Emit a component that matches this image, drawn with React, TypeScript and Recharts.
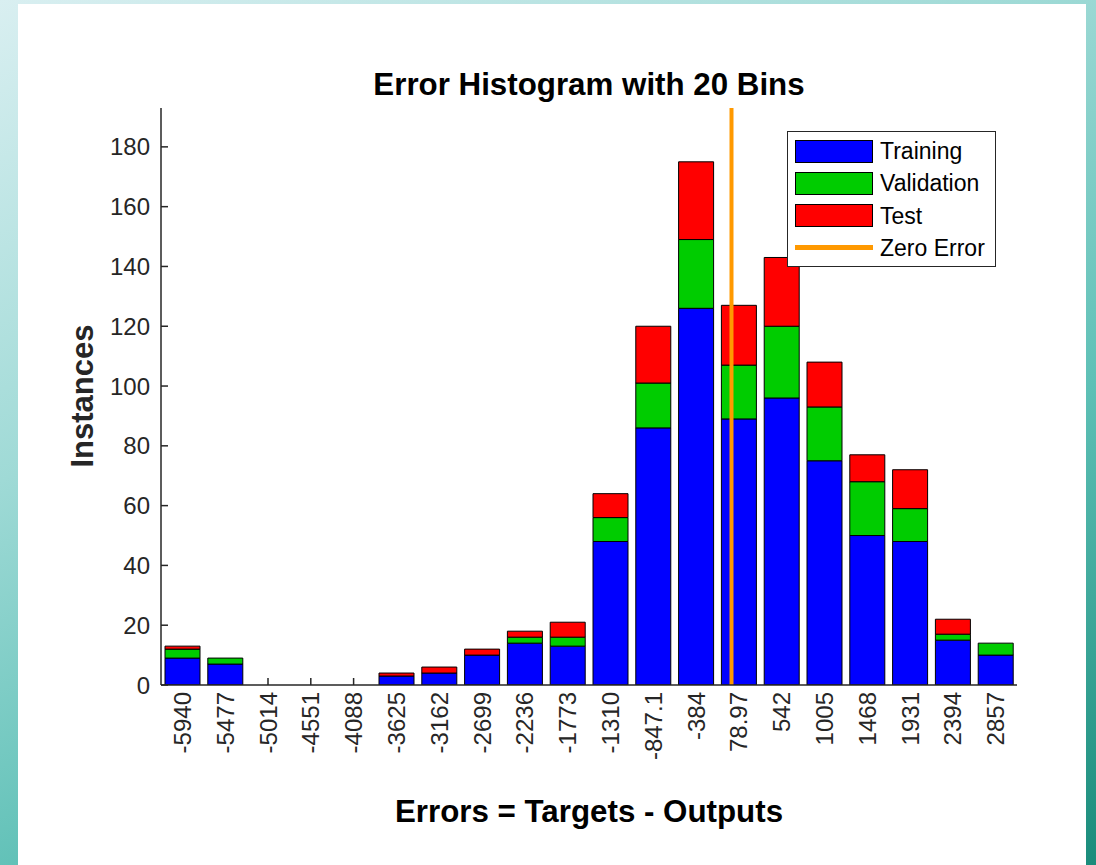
import { BarChart, Bar, XAxis, YAxis, ReferenceLine } from "recharts";

// bin centres of the error histogram and their printed labels
const binCenters = [
  -5940, -5477, -5014, -4551, -4088, -3625, -3162, -2699, -2236, -1773,
  -1310, -847.1, -384, 78.97, 542, 1005, 1468, 1931, 2394, 2857,
];
const binLabels = [
  "-5940", "-5477", "-5014", "-4551", "-4088", "-3625", "-3162", "-2699", "-2236", "-1773",
  "-1310", "-847.1", "-384", "78.97", "542", "1005", "1468", "1931", "2394", "2857",
];

const training = [9, 7, 0, 0, 0, 3, 4, 10, 14, 13, 48, 86, 126, 89, 96, 75, 50, 48, 15, 10];
const validation = [3, 2, 0, 0, 0, 0, 0, 0, 2, 3, 8, 15, 23, 18, 24, 18, 18, 11, 2, 4];
const test = [1, 0, 0, 0, 0, 1, 2, 2, 2, 5, 8, 19, 26, 20, 23, 15, 9, 13, 5, 0];

const yTicks = [0, 20, 40, 60, 80, 100, 120, 140, 160, 180];

const data = binCenters.map((bin, i) => ({
  bin,
  training: training[i],
  validation: validation[i],
  test: test[i],
}));

const FONT = "'Liberation Sans', Arial, Helvetica, sans-serif";
const TEXT = "#262626";

const halfBin = 231.5;

// x/y given to the ticks = axis position (tickSize 0, tickMargin 0)
const YTick = (props: any) => {
  const { x, y, payload } = props;
  return (
    <g>
      <line x1={x} x2={x + 7} y1={y} y2={y} stroke={TEXT} strokeWidth={1.5} />
      <text x={x - 11} y={y} dy={8.5} textAnchor="end" fontSize={24} fontFamily={FONT} fill={TEXT}>
        {payload.value}
      </text>
    </g>
  );
};

const XTick = (props: any) => {
  const { x, y, payload } = props;
  const idx = binCenters.indexOf(payload.value);
  const total = idx >= 0 ? training[idx] + validation[idx] + test[idx] : 0;
  const tx = x + 8.5;
  const ty = y + 7;
  return (
    <g>
      {/* matlab draws ticks under the bars, so only empty bins show them */}
      {total === 0 && <line x1={x} x2={x} y1={y} y2={y - 7} stroke={TEXT} strokeWidth={1.5} />}
      <text
        x={tx}
        y={ty}
        textAnchor="end"
        transform={`rotate(-90, ${tx}, ${ty})`}
        fontSize={24}
        fontFamily={FONT}
        fill={TEXT}
      >
        {idx >= 0 ? binLabels[idx] : payload.value}
      </text>
    </g>
  );
};

const legendItems = [
  { name: "Training", color: "#0000ff", kind: "box" },
  { name: "Validation", color: "#00cc00", kind: "box" },
  { name: "Test", color: "#ff0000", kind: "box" },
  { name: "Zero Error", color: "#ff9900", kind: "line" },
];

export default function App() {
  return (
    <div
      style={{
        position: "fixed",
        left: 0,
        top: 0,
        width: 1096,
        height: 865,
        overflow: "hidden",
        background: "linear-gradient(155deg, #d9eff1 0%, #9fdad6 35%, #5ec0b6 65%, #1a8c7b 100%)",
      }}
    >
      {/* white figure panel */}
      <div
        style={{
          position: "absolute",
          left: 18,
          top: 4,
          width: 1068,
          height: 861,
          background: "#fff",
        }}
      />

      <div style={{ position: "absolute", left: 0, top: 0 }}>
        <BarChart
          width={1096}
          height={865}
          data={data}
          barSize={35}
          margin={{ top: 108, right: 79, bottom: 100, left: 101 }}
        >
          <XAxis
            dataKey="bin"
            type="number"
            domain={[binCenters[0] - halfBin, binCenters[binCenters.length - 1] + halfBin]}
            ticks={binCenters}
            interval={0}
            height={80}
            tickLine={false}
            tickSize={0}
            tickMargin={0}
            tick={<XTick />}
            axisLine={{ stroke: TEXT, strokeWidth: 1.5 }}
            allowDataOverflow
          />
          <YAxis
            domain={[0, 193]}
            ticks={yTicks}
            width={60}
            tickLine={false}
            tickSize={0}
            tickMargin={0}
            tick={<YTick />}
            axisLine={{ stroke: TEXT, strokeWidth: 1.5 }}
            allowDataOverflow
          />
          <Bar dataKey="training" stackId="a" fill="#0000ff" stroke="#000" strokeWidth={1} isAnimationActive={false} />
          <Bar dataKey="validation" stackId="a" fill="#00cc00" stroke="#000" strokeWidth={1} isAnimationActive={false} />
          <Bar dataKey="test" stackId="a" fill="#ff0000" stroke="#000" strokeWidth={1} isAnimationActive={false} />
          <ReferenceLine x={0} stroke="#ff9900" strokeWidth={4} />
        </BarChart>
      </div>

      {/* title and axis labels */}
      <svg
        width={1096}
        height={865}
        style={{ position: "absolute", left: 0, top: 0, pointerEvents: "none" }}
      >
        <text x={589} y={95} textAnchor="middle" fontSize={31.3} fontWeight="bold" fontFamily={FONT} fill="#000">
          Error Histogram with 20 Bins
        </text>
        <text x={589} y={822} textAnchor="middle" fontSize={31.3} fontWeight="bold" fontFamily={FONT} fill="#000">
          Errors = Targets - Outputs
        </text>
        <text
          x={93}
          y={396}
          textAnchor="middle"
          transform="rotate(-90, 93, 396)"
          fontSize={31}
          fontWeight="bold"
          fontFamily={FONT}
          fill={TEXT}
        >
          Instances
        </text>
      </svg>

      {/* legend */}
      <div
        style={{
          position: "absolute",
          left: 787,
          top: 131,
          width: 207,
          height: 134,
          background: "#fff",
          border: `1px solid ${TEXT}`,
          fontFamily: FONT,
          fontSize: 23,
          color: "#000",
        }}
      >
        {legendItems.map((it, i) => (
          <div
            key={it.name}
            style={{
              position: "absolute",
              left: 7,
              top: 7 + i * 32.3,
              height: 24,
              display: "flex",
              alignItems: "center",
            }}
          >
            {it.kind === "box" ? (
              <div
                style={{
                  width: 76,
                  height: 21,
                  background: it.color,
                  border: "1px solid #000",
                }}
              />
            ) : (
              <div style={{ width: 78, height: 5, background: it.color, margin: "0" }} />
            )}
            <span style={{ marginLeft: 7, lineHeight: "24px" }}>{it.name}</span>
          </div>
        ))}
      </div>
    </div>
  );
}
